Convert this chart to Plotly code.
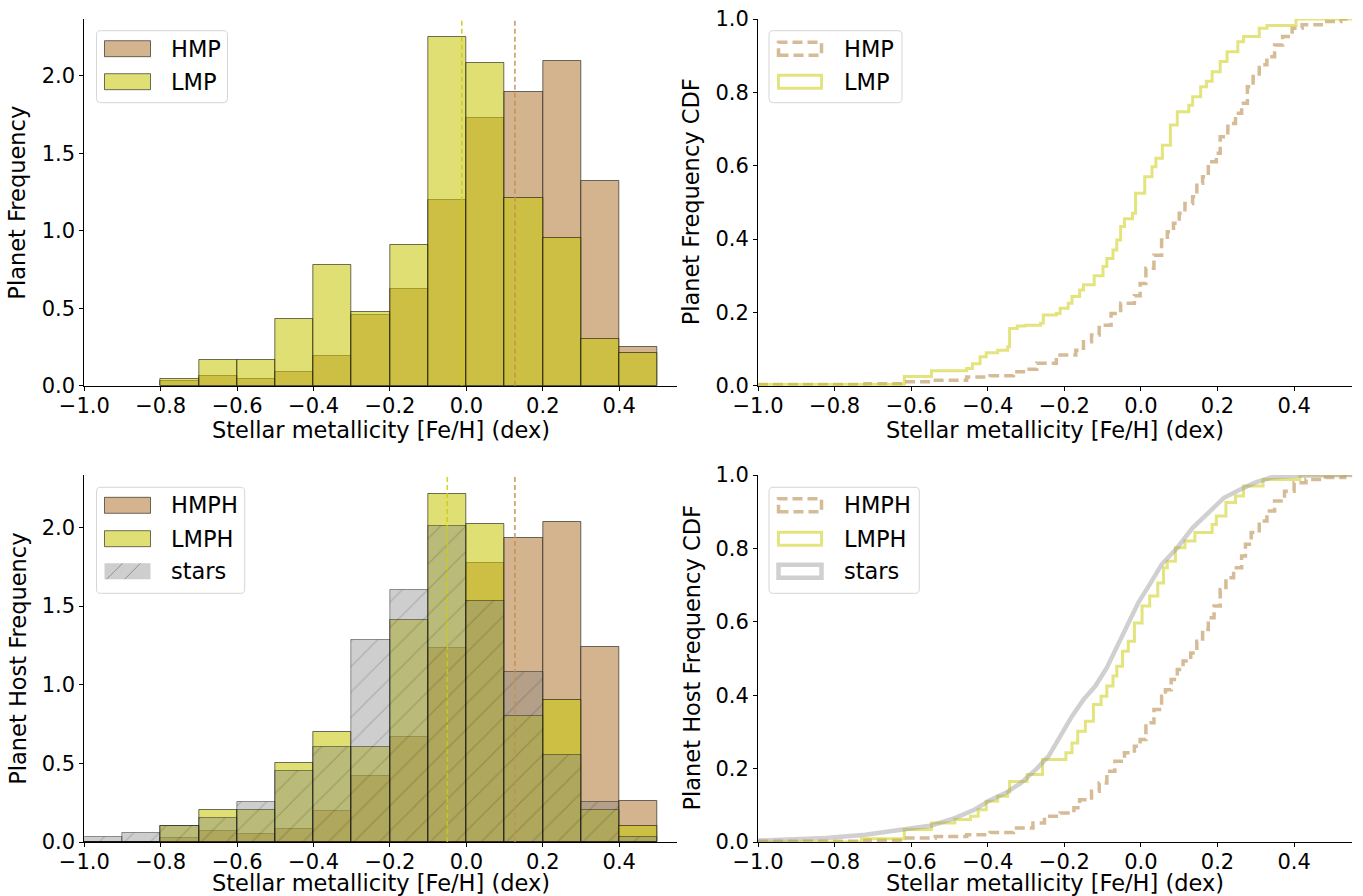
import numpy as np
import plotly.graph_objects as go

# ---------------- data ----------------
bin_edges_planets = [-0.8, -0.7, -0.6, -0.5, -0.4, -0.3, -0.2, -0.1, 0.0, 0.1, 0.2, 0.3, 0.4, 0.5]
hmp_freq = [0.030, 0.065, 0.041, 0.086, 0.189, 0.458, 0.624, 1.196, 1.727, 1.897, 2.092, 1.320, 0.249]
lmp_freq = [0.043, 0.168, 0.168, 0.432, 0.776, 0.475, 0.910, 2.247, 2.080, 1.211, 0.953, 0.299, 0.211]

bin_edges_hosts = [-1.0, -0.9, -0.8, -0.7, -0.6, -0.5, -0.4, -0.3, -0.2, -0.1, 0.0, 0.1, 0.2, 0.3, 0.4, 0.5]
hmph_freq = [0.0, 0.0, 0.025, 0.068, 0.051, 0.083, 0.199, 0.422, 0.669, 1.233, 1.773, 1.930, 2.034, 1.237, 0.261]
lmph_freq = [0.0, 0.0, 0.102, 0.203, 0.203, 0.500, 0.701, 0.602, 1.411, 2.214, 2.019, 0.803, 0.905, 0.203, 0.102]
stars_freq = [0.030, 0.059, 0.102, 0.153, 0.254, 0.451, 0.602, 1.282, 1.600, 2.011, 1.534, 1.083, 0.553, 0.254, 0.032]

median_lmp = -0.012
median_hmp = 0.127
median_lmph = -0.050
median_hmph = 0.127

# empirical CDFs (step positions, cumulative fraction)
cdf_hmp_x = [-1.0, -0.720, -0.618, -0.547, -0.455, -0.394, -0.333, -0.292, -0.272, -0.221, -0.170, -0.150,
             -0.129, -0.109, -0.078, -0.053, -0.017, -0.002, 0.013, 0.034, 0.054, 0.069, 0.085, 0.100,
             0.115, 0.135, 0.146, 0.161, 0.176, 0.197, 0.207, 0.227, 0.247, 0.263, 0.278, 0.293, 0.309,
             0.329, 0.349, 0.370, 0.395, 0.421, 0.471, 0.522, 0.552]
cdf_hmp_y = [0.003, 0.005, 0.011, 0.015, 0.024, 0.027, 0.038, 0.045, 0.061, 0.084, 0.097, 0.120,
             0.138, 0.165, 0.197, 0.225, 0.245, 0.279, 0.320, 0.356, 0.397, 0.420, 0.443, 0.470,
             0.497, 0.515, 0.552, 0.570, 0.611, 0.634, 0.679, 0.715, 0.743, 0.770, 0.815, 0.843, 0.875,
             0.897, 0.929, 0.952, 0.975, 0.984, 0.993, 1.0, 1.0]

cdf_lmp_x = [-1.0, -0.618, -0.547, -0.455, -0.440, -0.420, -0.404, -0.374, -0.348, -0.343, -0.323, -0.302,
             -0.262, -0.255, -0.221, -0.211, -0.190, -0.180, -0.160, -0.150, -0.122, -0.099, -0.089,
             -0.073, -0.063, -0.053, -0.043, -0.022, -0.014, 0.010, 0.029, 0.039, 0.056, 0.077, 0.095,
             0.125, 0.135, 0.156, 0.171, 0.186, 0.207, 0.225, 0.253, 0.268, 0.309, 0.329, 0.405, 0.552]
cdf_lmp_y = [0.003, 0.025, 0.041, 0.047, 0.060, 0.079, 0.090, 0.097, 0.106, 0.156, 0.163, 0.165,
             0.170, 0.193, 0.197, 0.211, 0.225, 0.243, 0.261, 0.275, 0.300, 0.325, 0.347,
             0.370, 0.397, 0.434, 0.455, 0.470, 0.525, 0.570, 0.597, 0.620, 0.656, 0.711, 0.747,
             0.765, 0.788, 0.815, 0.830, 0.856, 0.884, 0.911, 0.938, 0.952, 0.975, 0.982, 1.0, 1.0]

cdf_hmph_x = [-1.0, -0.720, -0.618, -0.537, -0.455, -0.394, -0.333, -0.282, -0.252, -0.211, -0.175, -0.160,
              -0.129, -0.109, -0.089, -0.068, -0.043, -0.017, -0.002, 0.013, 0.034, 0.054, 0.064, 0.079,
              0.095, 0.110, 0.130, 0.146, 0.161, 0.176, 0.191, 0.207, 0.222, 0.242, 0.263, 0.273, 0.288,
              0.309, 0.329, 0.349, 0.375, 0.400, 0.431, 0.482, 0.532, 0.552]
cdf_hmph_y = [0.002, 0.005, 0.011, 0.015, 0.020, 0.026, 0.038, 0.052, 0.070, 0.079, 0.093, 0.115,
              0.138, 0.161, 0.193, 0.220, 0.243, 0.261, 0.279, 0.325, 0.361, 0.397, 0.415, 0.443,
              0.470, 0.493, 0.515, 0.547, 0.579, 0.611, 0.643, 0.688, 0.720, 0.747, 0.779, 0.811, 0.843,
              0.875, 0.902, 0.929, 0.956, 0.979, 0.988, 0.993, 1.0, 1.0]

cdf_lmph_x = [-1.0, -0.730, -0.618, -0.547, -0.486, -0.445, -0.425, -0.404, -0.374, -0.348, -0.343, -0.297,
              -0.257, -0.196, -0.180, -0.165, -0.145, -0.124, -0.104, -0.089, -0.073, -0.063, -0.048,
              -0.033, -0.017, 0.003, 0.023, 0.044, 0.059, 0.069, 0.090, 0.115, 0.141, 0.186, 0.197,
              0.222, 0.247, 0.268, 0.319, 0.415, 0.552]
cdf_lmph_y = [0.0, 0.009, 0.034, 0.052, 0.061, 0.070, 0.088, 0.111, 0.125, 0.136, 0.165, 0.184,
              0.225, 0.243, 0.270, 0.302, 0.329, 0.375, 0.397, 0.425, 0.452, 0.479, 0.520,
              0.547, 0.597, 0.643, 0.670, 0.706, 0.747, 0.765, 0.802, 0.820, 0.843, 0.865, 0.888,
              0.925, 0.943, 0.970, 0.988, 1.0, 1.0]

cdf_stars_x = [-1.0, -0.822, -0.720, -0.618, -0.547, -0.486, -0.435, -0.394, -0.353, -0.313, -0.272, -0.241,
               -0.211, -0.180, -0.150, -0.119, -0.089, -0.058, -0.027, -0.007, 0.023, 0.054, 0.095, 0.135,
               0.176, 0.217, 0.258, 0.298, 0.339, 0.400, 0.552]
cdf_stars_y = [0.004, 0.011, 0.020, 0.035, 0.045, 0.065, 0.088, 0.114, 0.134, 0.161, 0.200, 0.234,
               0.288, 0.343, 0.388, 0.425, 0.475, 0.543, 0.615, 0.652, 0.702, 0.756, 0.802, 0.856,
               0.897, 0.938, 0.960, 0.979, 0.993, 0.998, 1.0]

x_tickvals = [-1.0, -0.8, -0.6, -0.4, -0.2, 0.0, 0.2, 0.4]
x_ticktext = ["\u22121.0", "\u22120.8", "\u22120.6", "\u22120.4", "\u22120.2", "0.0", "0.2", "0.4"]
hist_tickvals = [0.0, 0.5, 1.0, 1.5, 2.0]
hist_ticktext = ["0.0", "0.5", "1.0", "1.5", "2.0"]
cdf_tickvals = [0.0, 0.2, 0.4, 0.6, 0.8, 1.0]
cdf_ticktext = ["0.0", "0.2", "0.4", "0.6", "0.8", "1.0"]

x_title = "Stellar metallicity [Fe/H] (dex)"
y_titles = ["Planet Frequency", "Planet Frequency CDF", "Planet Host Frequency", "Planet Host Frequency CDF"]

# ---------------- styles ----------------
W, H = 1363, 896
FONT = "DejaVu Sans"
TAN = "rgba(212,180,142,1.0)"
YEL = "rgba(200,200,15,0.58)"
GRAY = "rgba(128,128,128,0.39)"
EDGE = "rgba(0,0,0,0.55)"
TAN_LINE = "rgba(210,180,140,0.9)"
YEL_LINE = "rgba(205,205,20,0.55)"
GRAY_LINE = "rgba(150,150,150,0.45)"


def px(x):
    return x / W


def py(y):
    return 1 - y / H


fig = go.Figure()


def centers(edges):
    e = np.array(edges)
    return (e[:-1] + e[1:]) / 2


# top-left histograms
fig.add_trace(go.Bar(x=centers(bin_edges_planets), y=hmp_freq, width=0.1, name="HMP",
                     marker=dict(color=TAN, line=dict(color=EDGE, width=1)),
                     xaxis="x", yaxis="y", showlegend=False))
fig.add_trace(go.Bar(x=centers(bin_edges_planets), y=lmp_freq, width=0.1, name="LMP",
                     marker=dict(color=YEL, line=dict(color=EDGE, width=1)),
                     xaxis="x", yaxis="y", showlegend=False))

# bottom-left histograms
fig.add_trace(go.Bar(x=centers(bin_edges_hosts), y=hmph_freq, width=0.1, name="HMPH",
                     marker=dict(color=TAN, line=dict(color=EDGE, width=1)),
                     xaxis="x3", yaxis="y3", showlegend=False))
fig.add_trace(go.Bar(x=centers(bin_edges_hosts), y=lmph_freq, width=0.1, name="LMPH",
                     marker=dict(color=YEL, line=dict(color=EDGE, width=1)),
                     xaxis="x3", yaxis="y3", showlegend=False))
fig.add_trace(go.Bar(x=centers(bin_edges_hosts), y=stars_freq, width=0.1, name="stars",
                     marker=dict(color=GRAY, line=dict(color="rgba(0,0,0,0.4)", width=1),
                                 pattern=dict(shape="/", size=18, solidity=0.07,
                                              fgcolor="rgba(0,0,0,0.3)", fillmode="overlay")),
                     xaxis="x3", yaxis="y3", showlegend=False))

# CDFs top-right
fig.add_trace(go.Scatter(x=cdf_hmp_x, y=cdf_hmp_y, mode="lines", line_shape="hv", name="HMP",
                         line=dict(color=TAN_LINE, width=3.5, dash="10px,5px"),
                         xaxis="x2", yaxis="y2", showlegend=False))
fig.add_trace(go.Scatter(x=cdf_lmp_x, y=cdf_lmp_y, mode="lines", line_shape="hv", name="LMP",
                         line=dict(color=YEL_LINE, width=3),
                         xaxis="x2", yaxis="y2", showlegend=False))
# CDFs bottom-right
fig.add_trace(go.Scatter(x=cdf_hmph_x, y=cdf_hmph_y, mode="lines", line_shape="hv", name="HMPH",
                         line=dict(color=TAN_LINE, width=3.5, dash="10px,5px"),
                         xaxis="x4", yaxis="y4", showlegend=False))
fig.add_trace(go.Scatter(x=cdf_lmph_x, y=cdf_lmph_y, mode="lines", line_shape="hv", name="LMPH",
                         line=dict(color=YEL_LINE, width=3),
                         xaxis="x4", yaxis="y4", showlegend=False))
fig.add_trace(go.Scatter(x=cdf_stars_x, y=cdf_stars_y, mode="lines", name="stars",
                         line=dict(color=GRAY_LINE, width=4.5),
                         xaxis="x4", yaxis="y4", showlegend=False))

# ---------------- axes ----------------
AX_L, AX_R = 84.3, 677.3
AX2_L, AX2_R = 758.0, 1352.3
T_TOP, T_BOT = 19.0, 385.7
B_TOP, B_BOT = 475.0, 842.0
xdom_l = [px(AX_L), px(AX_R)]
xdom_r = [px(AX2_L), px(AX2_R)]
ydom_t = [py(T_BOT), py(T_TOP)]
ydom_b = [py(B_BOT), py(B_TOP)]

tickfont = dict(family=FONT, size=21, color="black")
titlefont = dict(family=FONT, size=22.5, color="black")


def xax(domain, anchor):
    return dict(domain=domain, anchor=anchor, range=[-1.0, 0.552], tickvals=x_tickvals, ticktext=x_ticktext,
                ticks="outside", ticklen=4, tickwidth=1, tickcolor="black", showline=True, linecolor="black",
                linewidth=1, showgrid=False, zeroline=False, tickfont=tickfont, automargin=False,
                ticklabelstandoff=-3)


def yax(domain, anchor, rng, tv, tt):
    return dict(domain=domain, anchor=anchor, range=rng, tickvals=tv, ticktext=tt,
                ticks="outside", ticklen=4, tickwidth=1, tickcolor="black", showline=True, linecolor="black",
                linewidth=1, showgrid=False, zeroline=False, tickfont=tickfont, automargin=False)


fig.update_layout(
    width=W, height=H, margin=dict(l=0, r=0, t=0, b=0, autoexpand=False),
    paper_bgcolor="white", plot_bgcolor="white", barmode="overlay", bargap=0,
    font=dict(family=FONT, color="black"),
    xaxis=xax(xdom_l, "y"),
    yaxis=yax(ydom_t, "x", [0, 2.366], hist_tickvals, hist_ticktext),
    xaxis2=xax(xdom_r, "y2"),
    yaxis2=yax(ydom_t, "x2", [0, 1.0], cdf_tickvals, cdf_ticktext),
    xaxis3=xax(xdom_l, "y3"),
    yaxis3=yax(ydom_b, "x3", [0, 2.333], hist_tickvals, hist_ticktext),
    xaxis4=xax(xdom_r, "y4"),
    yaxis4=yax(ydom_b, "x4", [0, 1.0], cdf_tickvals, cdf_ticktext),
)

shapes = []
annotations = []

# axis titles
for (xl, xr), (yt, yb), ytitle, dy in [((AX_L, AX_R), (T_TOP, T_BOT), y_titles[0], 44.5),
                                       ((AX2_L, AX2_R), (T_TOP, T_BOT), y_titles[1], 44.5),
                                       ((AX_L, AX_R), (B_TOP, B_BOT), y_titles[2], 40.5),
                                       ((AX2_L, AX2_R), (B_TOP, B_BOT), y_titles[3], 40.5)]:
    annotations.append(dict(xref="paper", yref="paper", x=px((xl + xr) / 2), y=py(yb + dy),
                            text=x_title, showarrow=False, xanchor="center", yanchor="middle",
                            font=titlefont))
    annotations.append(dict(xref="paper", yref="paper", x=px(xl - 67), y=py((yt + yb) / 2),
                            text=ytitle, showarrow=False, xanchor="center", yanchor="middle",
                            textangle=-90, font=titlefont))

# median lines
for xv, col, xr, yr in [(median_lmp, "rgba(205,205,10,0.85)", "x", "y"),
                        (median_hmp, "rgba(195,145,80,0.9)", "x", "y"),
                        (median_lmph, "rgba(205,205,10,0.85)", "x3", "y3"),
                        (median_hmph, "rgba(195,145,80,0.9)", "x3", "y3")]:
    shapes.append(dict(type="line", xref=xr, yref=yr + " domain", x0=xv, x1=xv, y0=0, y1=1,
                       line=dict(color=col, width=1.6, dash="5px,3px")))


def rounded_box(x0, y0, x1, y1, r=4):
    def P(x, y):
        return f"{px(x):.5f},{py(y):.5f}"
    path = (f"M {P(x0 + r, y0)} L {P(x1 - r, y0)} Q {P(x1, y0)} {P(x1, y0 + r)} "
            f"L {P(x1, y1 - r)} Q {P(x1, y1)} {P(x1 - r, y1)} L {P(x0 + r, y1)} "
            f"Q {P(x0, y1)} {P(x0, y1 - r)} L {P(x0, y0 + r)} Q {P(x0, y0)} {P(x0 + r, y0)} Z")
    return dict(type="path", xref="paper", yref="paper", path=path,
                fillcolor="rgba(255,255,255,0.8)", line=dict(color="rgba(204,204,204,0.8)", width=1))


def legend(box, rows, left):
    bx0, by0, bx1, by1 = box
    shapes.append(rounded_box(bx0, by0, bx1, by1))
    for cy, label, kind, col in rows:
        x0, x1 = left + 8, left + 54
        y0, y1 = cy - 8, cy + 8
        if kind == "fill":
            shapes.append(dict(type="rect", xref="paper", yref="paper", x0=px(x0), x1=px(x1),
                               y0=py(y1), y1=py(y0), fillcolor=col, line=dict(color=EDGE, width=1)))
        elif kind == "hatch":
            shapes.append(dict(type="rect", xref="paper", yref="paper", x0=px(x0), x1=px(x1),
                               y0=py(y1), y1=py(y0), fillcolor=col, line=dict(color="rgba(0,0,0,0)", width=0)))
            for hx in [x0 + 2, x0 + 20]:
                shapes.append(dict(type="line", xref="paper", yref="paper", x0=px(hx), x1=px(hx + 16),
                                   y0=py(y1), y1=py(y0), line=dict(color="rgba(0,0,0,0.3)", width=1)))
        elif kind == "dash":
            shapes.append(dict(type="rect", xref="paper", yref="paper", x0=px(x0 + 1.5), x1=px(x1 - 1.5),
                               y0=py(y1 - 1.5), y1=py(y0 + 1.5), fillcolor="rgba(0,0,0,0)",
                               line=dict(color=col, width=3.5, dash="10px,5px")))
        else:
            w = 4.5 if kind == "thick" else 3
            shapes.append(dict(type="rect", xref="paper", yref="paper", x0=px(x0 + 1.5), x1=px(x1 - 1.5),
                               y0=py(y1 - 1.5), y1=py(y0 + 1.5), fillcolor="rgba(0,0,0,0)",
                               line=dict(color=col, width=w)))
        annotations.append(dict(xref="paper", yref="paper", x=px(left + 72.5), y=py(cy), text=label,
                                showarrow=False, xanchor="left", yanchor="middle",
                                font=dict(family=FONT, size=22.5, color="black")))


legend((96.5, 30.7, 227.5, 102.7), [(48.7, "HMP", "fill", TAN), (81.7, "LMP", "fill", YEL)], 96.5)
legend((96.5, 487.3, 244.7, 593.3), [(505.3, "HMPH", "fill", TAN), (538.7, "LMPH", "fill", YEL),
                                     (571.3, "stars", "hatch", GRAY)], 96.5)
legend((769, 30.7, 902, 102.7), [(48.7, "HMP", "dash", TAN_LINE), (81.7, "LMP", "line", YEL_LINE)], 769)
legend((769, 487.3, 919.3, 593.3), [(505.3, "HMPH", "dash", TAN_LINE), (538.7, "LMPH", "line", YEL_LINE),
                                    (571.3, "stars", "thick", GRAY_LINE)], 769)

fig.update_layout(shapes=shapes, annotations=annotations)
fig.write_html("out.html")
